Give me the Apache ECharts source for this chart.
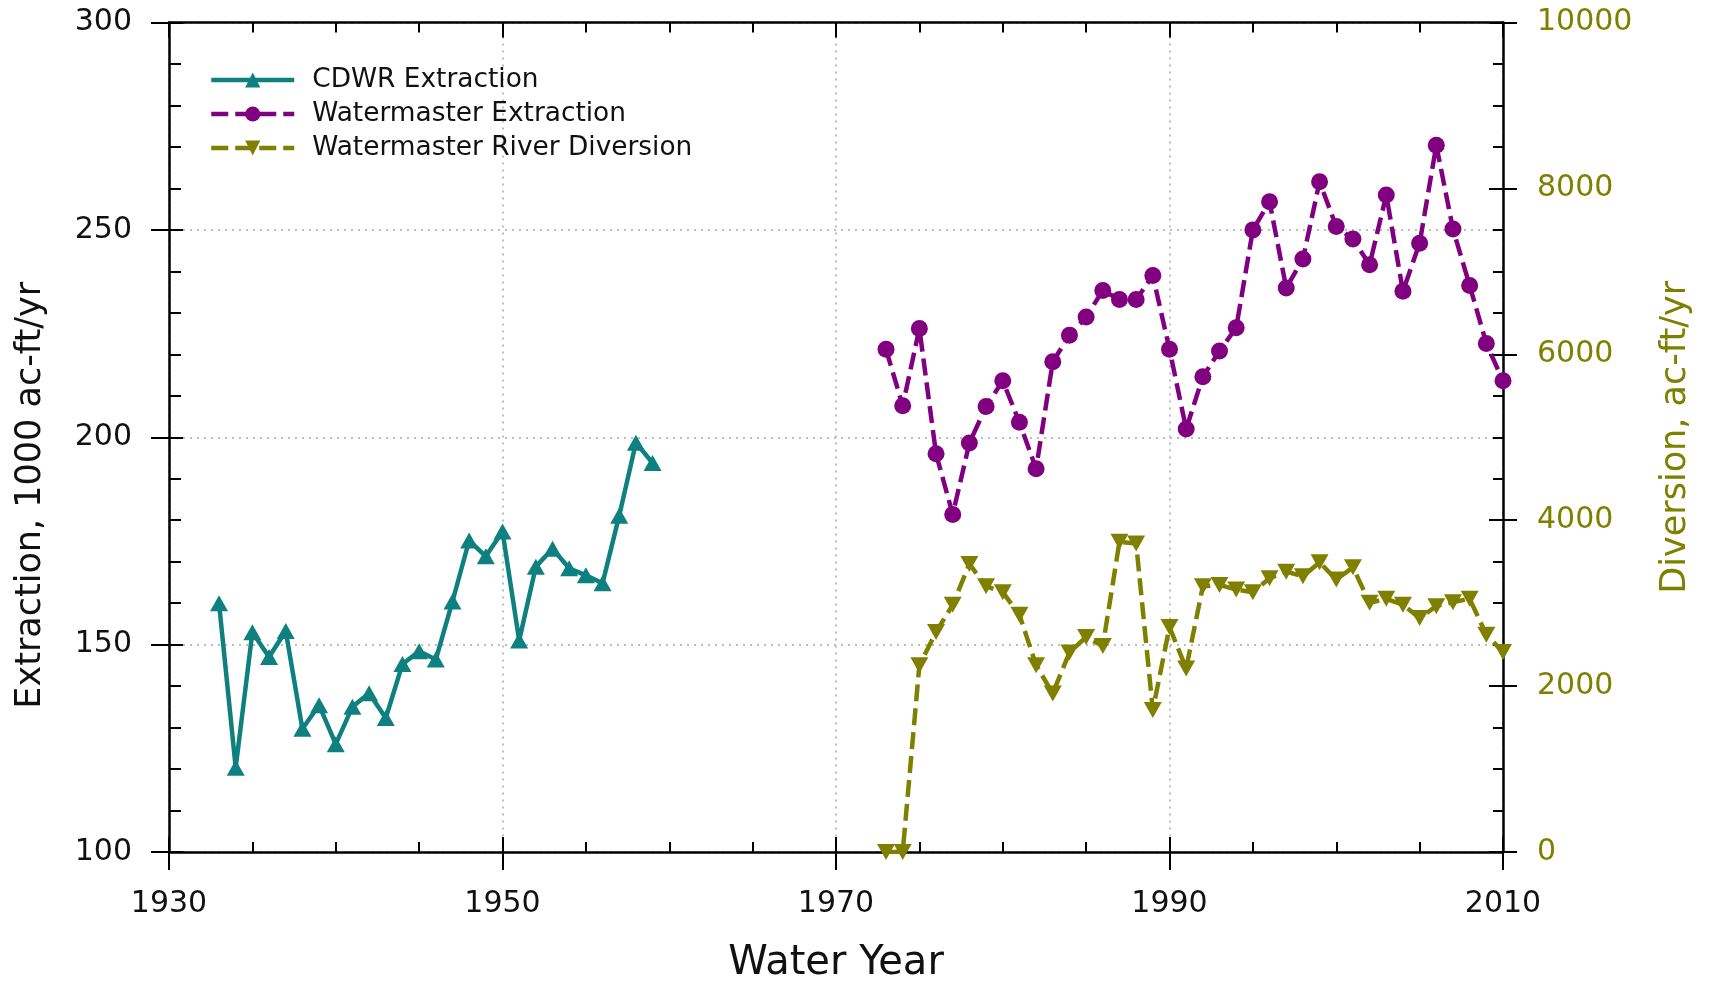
<!DOCTYPE html>
<html>
<head>
<meta charset="utf-8">
<script src="https://cdn.jsdelivr.net/npm/echarts@6/dist/echarts.min.js"></script>
<style>
  html, body { margin: 0; padding: 0; background: #fff; }
  #chart { width: 1711px; height: 989px; }
</style>
</head>
<body>
<div id="chart"></div>
<script>
// ---- Data ----
const cdwrYears = [1933, 1934, 1935, 1936, 1937, 1938, 1939, 1940, 1941, 1942, 1943, 1944, 1945, 1946,
                   1947, 1948, 1949, 1950, 1951, 1952, 1953, 1954, 1955, 1956, 1957, 1958, 1959];
const cdwrExtraction = [160, 120.3, 153, 147, 153.3, 129.7, 135.4, 126, 135, 138.3, 132.3, 145.3, 148.4, 146.4,
                        160.4, 175.1, 171.3, 177.3, 151, 168.8, 173.1, 168.4, 166.7, 164.8, 181.1, 198.7, 193.8];

const wmYears = [1973, 1974, 1975, 1976, 1977, 1978, 1979, 1980, 1981, 1982, 1983, 1984, 1985, 1986, 1987,
                 1988, 1989, 1990, 1991, 1992, 1993, 1994, 1995, 1996, 1997, 1998, 1999, 2000, 2001, 2002,
                 2003, 2004, 2005, 2006, 2007, 2008, 2009, 2010];
const wmExtraction = [221.2, 207.6, 226.2, 196, 181.4, 198.6, 207.4, 213.6, 203.6, 192.4, 218.2, 224.6, 229,
                      235.4, 233.2, 233.2, 239, 221.2, 202, 214.6, 220.8, 226.4, 250, 256.8, 236, 243, 261.6,
                      250.8, 247.8, 241.6, 258.4, 235.2, 246.8, 270.4, 250.2, 236.6, 222.6, 213.6];
const wmDiversion = [0, 0, 2252, 2652, 2980, 3472, 3204, 3132, 2860, 2252, 1912, 2404, 2592, 2484, 3740, 3720,
                     1712, 2712, 2212, 3204, 3220, 3164, 3132, 3300, 3380, 3324, 3492, 3284, 3432, 3004, 3052,
                     2980, 2820, 2964, 3012, 3052, 2620, 2412];

const seriesNames = ['CDWR Extraction', 'Watermaster Extraction', 'Watermaster River Diversion'];
const xTitle = 'Water Year';
const yLeftTitle = 'Extraction, 1000 ac-ft/yr';
const yRightTitle = 'Diversion, ac-ft/yr';

// ---- Styling ----
const TEAL = '#0f8080';
const PURPLE = '#800080';
const OLIVE = '#808000';
const FONT = 'DejaVu Sans';
const AXIS_W = 2.5;
const LINE_W = 4.5;
const DASH = [17, 7];

const pairs = (xs, ys) => xs.map((x, i) => [x, ys[i]]);
const plain = v => String(v);

const chart = echarts.init(document.getElementById('chart'), null, { renderer: 'canvas' });

const dotted = { show: true, lineStyle: { color: '#bdbdbd', type: [2, 5], width: 2 } };
const axisLine = { show: true, lineStyle: { color: '#000', width: AXIS_W } };

const xBase = { type: 'value', min: 1930, max: 2010, interval: 20, gridIndex: 0 };
const yLBase = { type: 'value', min: 100, max: 300, interval: 50, gridIndex: 0 };
const yRBase = { type: 'value', min: 0, max: 10000, interval: 2000, gridIndex: 0 };

const option = {
  animation: false,
  backgroundColor: '#fff',
  grid: { left: 169, right: 208, top: 22.5, bottom: 135.5, containLabel: false },
  legend: {
    orient: 'vertical',
    left: 204,
    top: 62,
    itemWidth: 83,
    itemHeight: 19,
    itemGap: 8,
    data: seriesNames,
    lineStyle: { width: LINE_W },
    textStyle: { fontFamily: FONT, fontSize: 26.4, color: '#111', lineHeight: 26, padding: [0, 0, 0, 13] }
  },
  xAxis: [
    Object.assign({}, xBase, {
      position: 'bottom',
      name: xTitle,
      nameLocation: 'middle',
      nameGap: 92,
      nameTextStyle: { fontFamily: FONT, fontSize: 40, color: '#111' },
      axisLine: axisLine,
      axisTick: { show: true, inside: false, length: 18, lineStyle: { color: '#000', width: 2 } },
      axisLabel: { fontFamily: FONT, fontSize: 30, color: '#111', margin: 37, formatter: plain },
      splitLine: dotted,
      minorTick: { show: false }
    }),
    Object.assign({}, xBase, {
      position: 'bottom',
      axisLine: { show: false },
      axisLabel: { show: false },
      axisTick: { show: true, inside: true, length: 15, lineStyle: { color: '#000', width: 2 } },
      minorTick: { show: true, splitNumber: 4, length: 10, lineStyle: { color: '#000', width: 2 } },
      splitLine: { show: false }
    }),
    Object.assign({}, xBase, {
      position: 'top',
      axisLine: axisLine,
      axisLabel: { show: false },
      axisTick: { show: true, inside: true, length: 15, lineStyle: { color: '#000', width: 2 } },
      minorTick: { show: true, splitNumber: 4, length: 10, lineStyle: { color: '#000', width: 2 } },
      splitLine: { show: false }
    })
  ],
  yAxis: [
    Object.assign({}, yLBase, {
      position: 'left',
      name: yLeftTitle,
      nameLocation: 'middle',
      nameGap: 121,
      nameRotate: 90,
      nameTextStyle: { fontFamily: FONT, fontSize: 35, color: '#111', padding: [0, 116, 0, 0] },
      axisLine: axisLine,
      axisTick: { show: true, inside: false, length: 18, lineStyle: { color: '#000', width: 2 } },
      axisLabel: { fontFamily: FONT, fontSize: 30, color: '#111', margin: 37, formatter: plain },
      splitLine: dotted
    }),
    Object.assign({}, yLBase, {
      position: 'left',
      axisLine: { show: false },
      axisLabel: { show: false },
      axisTick: { show: true, inside: true, length: 14, lineStyle: { color: '#000', width: 2 } },
      minorTick: { show: true, splitNumber: 5, length: 12, lineStyle: { color: '#000', width: 2 } },
      splitLine: { show: false }
    }),
    Object.assign({}, yRBase, {
      position: 'right',
      name: yRightTitle,
      nameLocation: 'middle',
      nameGap: 155,
      nameRotate: 90,
      nameTextStyle: { fontFamily: FONT, fontSize: 35, color: OLIVE },
      axisLine: axisLine,
      axisTick: { show: true, inside: false, length: 14, lineStyle: { color: '#000', width: 2 } },
      axisLabel: { fontFamily: FONT, fontSize: 30, color: OLIVE, margin: 34, formatter: plain },
      splitLine: { show: false }
    }),
    Object.assign({}, yRBase, {
      position: 'right',
      axisLine: { show: false },
      axisLabel: { show: false },
      axisTick: { show: true, inside: true, length: 14, lineStyle: { color: '#000', width: 2 } },
      minorTick: { show: true, splitNumber: 4, length: 10, lineStyle: { color: '#000', width: 2 } },
      splitLine: { show: false }
    })
  ],
  series: [
    {
      name: seriesNames[0],
      type: 'line',
      xAxisIndex: 0, yAxisIndex: 0,
      data: pairs(cdwrYears, cdwrExtraction),
      symbol: 'triangle', symbolSize: [18, 16],
      lineStyle: { color: TEAL, width: LINE_W },
      itemStyle: { color: TEAL },
      z: 3
    },
    {
      name: seriesNames[1],
      type: 'line',
      xAxisIndex: 0, yAxisIndex: 0,
      data: pairs(wmYears, wmExtraction),
      symbol: 'circle', symbolSize: 17,
      lineStyle: { color: PURPLE, width: LINE_W, type: DASH },
      itemStyle: { color: PURPLE },
      z: 3
    },
    {
      name: seriesNames[2],
      type: 'line',
      xAxisIndex: 0, yAxisIndex: 2,
      data: pairs(wmYears, wmDiversion),
      symbol: 'triangle', symbolRotate: 180, symbolSize: [18, 16],
      lineStyle: { color: OLIVE, width: LINE_W, type: DASH },
      itemStyle: { color: OLIVE },
      z: 3
    }
  ]
};

chart.setOption(option);
</script>
</body>
</html>
